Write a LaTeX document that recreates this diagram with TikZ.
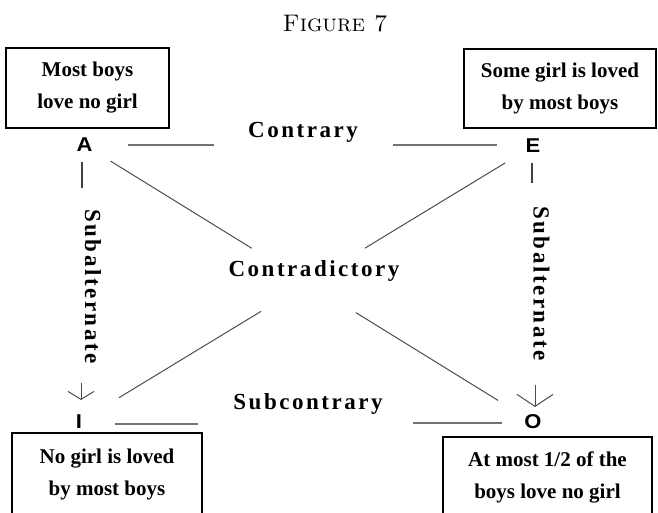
\documentclass[tikz,border=0pt]{standalone}
\usepackage{fontspec}
\usetikzlibrary{arrows.meta,calc}
\newfontfamily\stmtfont{Liberation Serif}
\newfontfamily\lblfont{Liberation Serif}[LetterSpace=11]
\newfontfamily\corfont{Liberation Sans}
\tikzset{
  stmt/.style={draw, line width=1.2pt, align=center,
    font=\stmtfont\bfseries\fontsize{21}{32}\selectfont, inner sep=0pt},
  lbl/.style={font=\lblfont\bfseries\fontsize{23}{23}\selectfont, inner sep=0pt},
  corner/.style={font=\corfont\bfseries\fontsize{20}{20}\selectfont, inner sep=0pt, xscale=1.1},
  hline/.style={draw=black!55, line width=1.6pt},
  dline/.style={draw=black!70, line width=1pt},
  vline/.style={draw=black!75, line width=1.5pt},
  arrowline/.style={draw=black!70, line width=1pt},
}
\begin{document}
\begin{tikzpicture}[x=1pt,y=-1pt]
\useasboundingbox (0,0) rectangle (658,513);
\clip (0,0) rectangle (658,513);
% title
\node[font=\fontsize{24}{24}\selectfont, inner sep=0pt] (title) at (335,23.5) {\textsc{Figure 7}};
% statement boxes
\node[stmt, minimum width=163pt, minimum height=80pt] (bA) at (87.5,88) {Most boys\\love no girl};
\node[stmt, minimum width=192pt, minimum height=79pt] (bE) at (560,88.5) {Some girl is loved\\by most boys};
\node[stmt, minimum width=190pt, minimum height=82pt] (bI) at (107,474) {No girl is loved\\by most boys};
\node[stmt, minimum width=209pt, minimum height=80pt] (bO) at (547.5,477) {At most 1/2 of the\\boys love no girl};
% corner letters
\node[corner] (A) at (84.5,145) {A};
\node[corner] (E) at (533,146) {E};
\node[corner] (I) at (79,422) {I};
\node[corner] (O) at (533,422) {O};
% labels
\node[lbl] (contrary) at (303,132) {Contrary};
\node[lbl] (subcontrary) at (308,404) {Subcontrary};
\node[lbl] (contradictory) at (314,271.5) {Contradictory};
\node[lbl, rotate=-90] (subL) at (93,286.5) {Subalternate};
\node[lbl, rotate=-90] (subR) at (541.5,283.5) {Subalternate};
% contrary / subcontrary lines
\coordinate (c1) at (128,145); \coordinate (c2) at (214,145);
\coordinate (c3) at (393,145); \coordinate (c4) at (497,145);
\draw[hline] (c1) -- (c2);
\draw[hline] (c3) -- (c4);
\coordinate (s1) at (115,424); \coordinate (s2) at (198,424);
\coordinate (s3) at (413,423); \coordinate (s4) at (502,423);
\draw[hline] (s1) -- (s2);
\draw[hline] (s3) -- (s4);
% contradictory diagonals
\path (A.center) -- (O.center)
  coordinate[pos=0.058] (ao1) coordinate[pos=0.373] (ao2)
  coordinate[pos=0.605] (ao3) coordinate[pos=0.922] (ao4);
\path (E.center) -- (I.center)
  coordinate[pos=0.0617] (ei1) coordinate[pos=0.37] (ei2)
  coordinate[pos=0.599] (ei3) coordinate[pos=0.912] (ei4);
\draw[dline] (ao1) -- (ao2);
\draw[dline] (ao3) -- (ao4);
\draw[dline] (ei1) -- (ei2);
\draw[dline] (ei3) -- (ei4);
% subalternate lines and arrows
\coordinate (la1) at (82,162); \coordinate (la2) at (82,188);
\draw[vline] (la1) -- (la2);
\coordinate (lb1) at (81,383); \coordinate (lb2) at (81,400);
\draw[arrowline, -{Straight Barb[length=8pt,width=26pt]}] (lb1) -- (lb2);
\coordinate (ra1) at (532,163); \coordinate (ra2) at (532,183);
\draw[vline] (ra1) -- (ra2);
\coordinate (rb1) at (535,385); \coordinate (rb2) at (535,407);
\draw[arrowline, -{Straight Barb[length=12pt,width=36pt]}] (rb1) -- (rb2);
\end{tikzpicture}
\end{document}
